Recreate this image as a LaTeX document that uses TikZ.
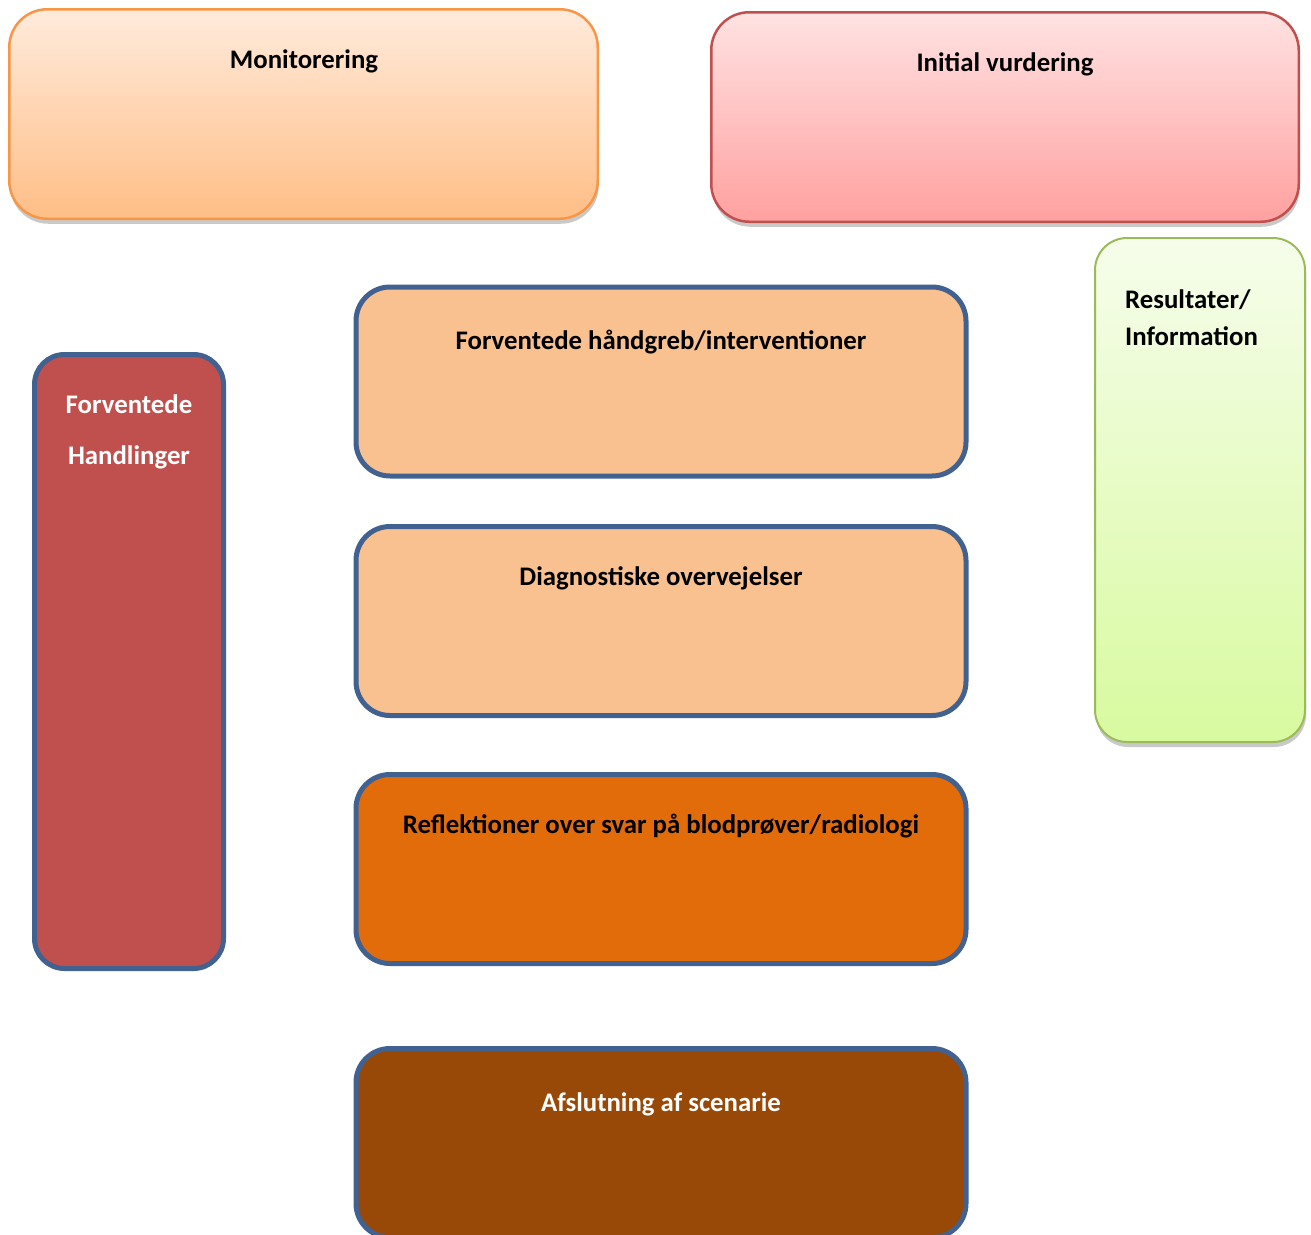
\documentclass[tikz,border=0pt]{standalone}
\usepackage{fontspec}
\setmainfont{Carlito}
\usetikzlibrary{shadows}

\definecolor{frameblue}{RGB}{65,98,145}
\definecolor{monborder}{RGB}{247,150,70}
\definecolor{montop}{RGB}{255,235,220}
\definecolor{monbot}{RGB}{255,190,134}
\definecolor{iniborder}{RGB}{192,80,77}
\definecolor{initop}{RGB}{255,226,226}
\definecolor{inibot}{RGB}{255,161,160}
\definecolor{resborder}{RGB}{155,187,89}
\definecolor{restop}{RGB}{246,253,235}
\definecolor{resbot}{RGB}{216,250,159}
\definecolor{handfill}{RGB}{192,80,77}
\definecolor{peach}{RGB}{249,192,144}
\definecolor{reflfill}{RGB}{227,108,10}
\definecolor{afslfill}{RGB}{152,72,7}

\begin{document}
\begin{tikzpicture}[x=1pt,y=1pt,yscale=-1,xscale=1,
    bluebox/.style={draw=frameblue, line width=5pt, rounded corners=34pt, inner sep=0pt, minimum width=610pt, minimum height=189pt},
    softbox/.style={line width=2.5pt, rounded corners=38pt, inner sep=0pt, drop shadow={shadow xshift=1pt, shadow yshift=-5pt, opacity=0.3, fill=black!70}},
    txt/.style={font=\fontsize{26.8}{32}\selectfont\bfseries, inner sep=0pt, anchor=base}]
    \useasboundingbox (0,0) rectangle (1311,1234);

    %Shape: Rounded Rect [Monitorering]
    \node [softbox, draw=monborder, top color=montop, bottom color=monbot, minimum width=588.5pt, minimum height=209.5pt] (mon) at (303.5,114) {};
    %Shape: Rounded Rect [Initial vurdering]
    \node [softbox, draw=iniborder, top color=initop, bottom color=inibot, minimum width=587.5pt, minimum height=209.5pt] (ini) at (1005,117) {};
    %Shape: Rounded Rect [Resultater]
    \node [softbox, draw=resborder, line width=2pt, rounded corners=32pt, top color=restop, bottom color=resbot, minimum width=210pt, minimum height=504pt] (res) at (1200,490) {};
    %Shape: Rounded Rect [Forventede handlinger]
    \node [bluebox, fill=handfill, rounded corners=30pt, minimum width=189pt, minimum height=614pt] (hand) at (129,661.5) {};
    %Shape: Rounded Rect [middle column]
    \node [bluebox, fill=peach] (interv) at (661,381.5) {};
    \node [bluebox, fill=peach] (diag) at (661,621) {};
    \node [bluebox, fill=reflfill] (refl) at (661,869) {};
    \node [bluebox, fill=afslfill] (afsl) at (661,1143) {};

    % Text Node
    \node [txt] (monT) at (304,68) {Monitorering};
    % Text Node
    \node [txt] (iniT) at (1005,71) {Initial vurdering};
    % Text Node
    \node [txt, anchor=base west] (resT1) at (1125,308) {Resultater/};
    \node [txt, anchor=base west] (resT2) at (1125,345) {Information};
    % Text Node
    \node [txt, text=white] (handT1) at (129,413) {Forventede};
    \node [txt, text=white] (handT2) at (129,464) {Handlinger};
    % Text Node
    \node [txt] (intervT) at (661,349) {Forventede håndgreb/interventioner};
    % Text Node
    \node [txt] (diagT) at (661,585) {Diagnostiske overvejelser};
    % Text Node
    \node [txt] (reflT) at (661,833) {Reflektioner over svar på blodprøver/radiologi};
    % Text Node
    \node [txt, text=white] (afslT) at (661,1111) {Afslutning af scenarie};
\end{tikzpicture}
\end{document}
